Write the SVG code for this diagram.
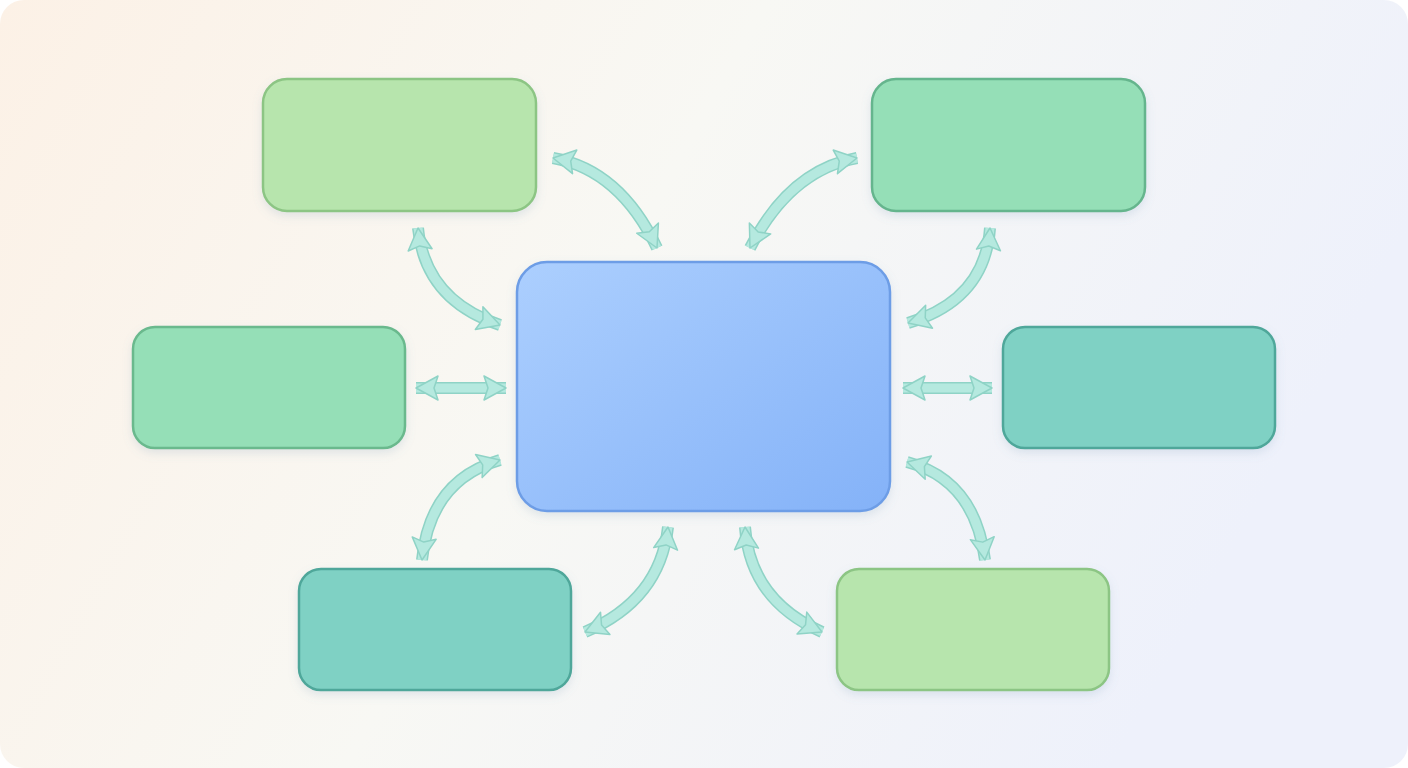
<svg xmlns="http://www.w3.org/2000/svg" width="1408" height="768" viewBox="0 0 1408 768">
<defs>
<linearGradient id="bg" x1="0" y1="0" x2="1" y2="0.3"><stop offset="0" stop-color="#fcf1e6"/><stop offset="0.5" stop-color="#f8f8f4"/><stop offset="1" stop-color="#eef1fb"/></linearGradient>
<linearGradient id="cg" x1="0" y1="0" x2="1" y2="1"><stop offset="0" stop-color="#accffe"/><stop offset="1" stop-color="#84b2f8"/></linearGradient>
<filter id="sh" x="-10%" y="-10%" width="120%" height="130%"><feDropShadow dx="0" dy="4" stdDeviation="5" flood-color="#6f8fb0" flood-opacity="0.18"/></filter>
<marker id="h" markerUnits="userSpaceOnUse" markerWidth="30" markerHeight="30" viewBox="0 0 30 30" refX="26" refY="15" orient="auto-start-reverse"><polygon points="4,3 26,15 4,27 8,15" fill="#b5e9df" stroke="#8fd3c6" stroke-width="1.5" stroke-linejoin="round"/></marker>
<style>
.n{stroke-width:2.5;filter:url(#sh)}
.o{fill:none;stroke:#8fd3c6;stroke-width:12;stroke-linecap:butt}
.i{fill:none;stroke:#b5e9df;stroke-width:9;marker-start:url(#h);marker-end:url(#h)}
</style>
</defs>
<rect x="0" y="0" width="1408" height="768" rx="24" fill="url(#bg)"/>
<g id="connectors">
<path class="o" d="M553,158 Q620,170 657,248"/><path class="i" d="M553,158 Q620,170 657,248"/>
<path class="o" d="M418,228 Q425,300 500,325"/><path class="i" d="M418,228 Q425,300 500,325"/>
<path class="o" d="M416,388 L506,388"/><path class="i" d="M416,388 L506,388"/>
<path class="o" d="M500,460 Q430,480 422,560"/><path class="i" d="M500,460 Q430,480 422,560"/>
<path class="o" d="M668,527 Q660,600 585,632"/><path class="i" d="M668,527 Q660,600 585,632"/>
<path class="o" d="M745,527 Q750,600 822,632"/><path class="i" d="M745,527 Q750,600 822,632"/>
<path class="o" d="M907,462 Q975,480 985,560"/><path class="i" d="M907,462 Q975,480 985,560"/>
<path class="o" d="M903,388 L992,388"/><path class="i" d="M903,388 L992,388"/>
<path class="o" d="M990,228 Q985,300 908,323"/><path class="i" d="M990,228 Q985,300 908,323"/>
<path class="o" d="M857,158 Q790,170 750,248"/><path class="i" d="M857,158 Q790,170 750,248"/>
</g>
<g id="center"><rect class="n" x="517" y="262" width="373" height="249" rx="30" fill="url(#cg)" stroke="#6d9de6"/></g>
<g id="tl"><rect class="n" x="263" y="79" width="273" height="132" rx="24" fill="#b7e5ad" stroke="#8cc584"/></g>
<g id="tr"><rect class="n" x="872" y="79" width="273" height="132" rx="24" fill="#95dfb7" stroke="#65b58d"/></g>
<g id="l"><rect class="n" x="133" y="327" width="272" height="121" rx="22" fill="#95dfb7" stroke="#6ab98d"/></g>
<g id="r"><rect class="n" x="1003" y="327" width="272" height="121" rx="22" fill="#7fd1c4" stroke="#4fa79a"/></g>
<g id="bl"><rect class="n" x="299" y="569" width="272" height="121" rx="22" fill="#7fd1c4" stroke="#4fa79a"/></g>
<g id="br"><rect class="n" x="837" y="569" width="272" height="121" rx="22" fill="#b7e5ad" stroke="#8cc584"/></g>
</svg>
